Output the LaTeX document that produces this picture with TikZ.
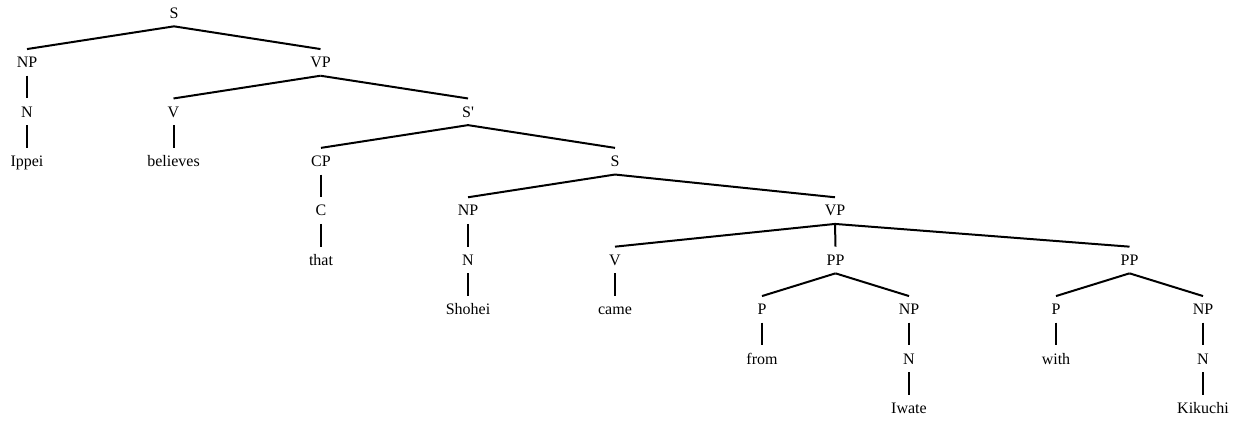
\documentclass[tikz,border=0pt]{standalone}
\usepackage{fontspec}
\newfontfamily\treefont{Liberation Serif}
\usepackage{tikz}
\usetikzlibrary{positioning}

\begin{document}
\begin{tikzpicture}[x=0.75pt, y=-0.75pt,
    cat/.style={inner sep=0pt, text height=8pt, text depth=0pt, outer ysep=6pt, font=\treefont\fontsize{12}{14}\selectfont},
    branch/.style={line width=1.5pt}]
  \useasboundingbox (0,0) rectangle (1234,421);

  % Main clause
  \node[cat] (s) at (174,13) {S};
  \node[cat] (np) at (27,62.4) {NP};
  \node[cat] (n) at (27,111.8) {N};
  \node[cat] (ippei) at (27,161.2) {Ippei};
  \node[cat] (vp) at (320.5,62.4) {VP};
  \node[cat] (v) at (173.5,111.8) {V};
  \node[cat] (believes) at (173.5,161.2) {believes};

  % Embedded clause
  \node[cat] (sbar) at (468,111.8) {S'};
  \node[cat] (cp) at (321,161.2) {CP};
  \node[cat] (c) at (321,210.6) {C};
  \node[cat] (that) at (321,260) {that};
  \node[cat] (s2) at (615,161.2) {S};
  \node[cat] (np2) at (468,210.6) {NP};
  \node[cat] (n2) at (468,260) {N};
  \node[cat] (shohei) at (468,309.4) {Shohei};
  \node[cat] (vp2) at (835,210.6) {VP};
  \node[cat] (v2) at (615,260) {V};
  \node[cat] (came) at (615,309.4) {came};

  % Prepositional phrases
  \node[cat] (pp1) at (835.5,260) {PP};
  \node[cat] (p1) at (762,309.4) {P};
  \node[cat] (from) at (762,358.8) {from};
  \node[cat] (np3) at (909,309.4) {NP};
  \node[cat] (n3) at (909,358.8) {N};
  \node[cat] (iwate) at (909,408.2) {Iwate};
  \node[cat] (pp2) at (1129.5,260) {PP};
  \node[cat] (p2) at (1056,309.4) {P};
  \node[cat] (with) at (1056,358.8) {with};
  \node[cat] (np4) at (1203,309.4) {NP};
  \node[cat] (n4) at (1203,358.8) {N};
  \node[cat] (kikuchi) at (1203,408.2) {Kikuchi};

  % Branches
  \foreach \a/\b in {s/np, s/vp, np/n, n/ippei, vp/v, vp/sbar, v/believes,
      sbar/cp, sbar/s2, cp/c, c/that, s2/np2, s2/vp2, np2/n2, n2/shohei,
      vp2/v2, vp2/pp1, vp2/pp2, v2/came, pp1/p1, pp1/np3, p1/from, np3/n3,
      n3/iwate, pp2/p2, pp2/np4, p2/with, np4/n4, n4/kikuchi} {
    \draw[branch] (\a.south) -- (\b.north);
  }
\end{tikzpicture}
\end{document}
